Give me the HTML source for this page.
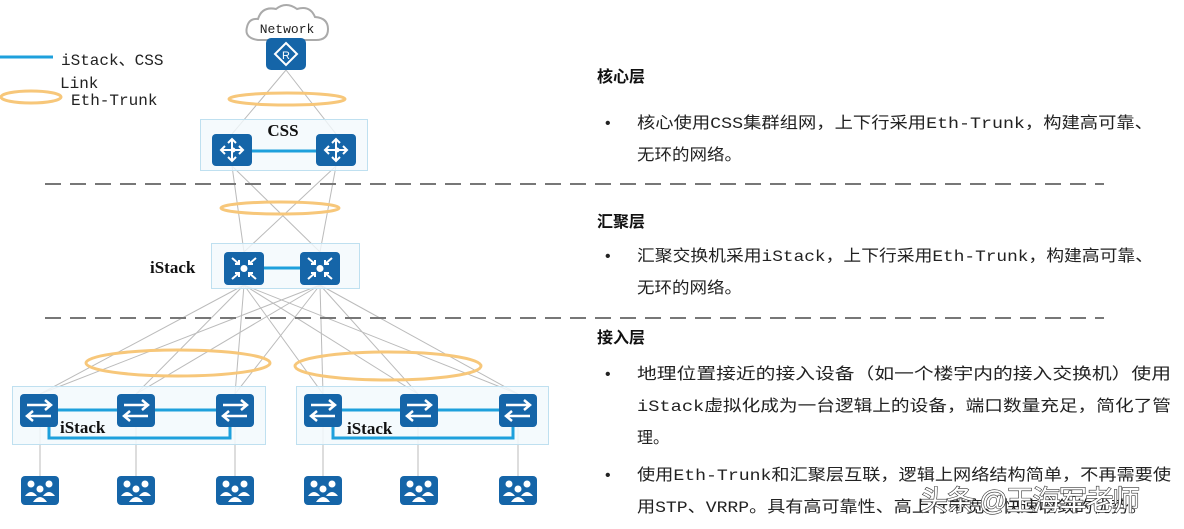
<!DOCTYPE html>
<html><head><meta charset="utf-8"><style>
html,body{margin:0;padding:0;background:#fff;}
svg{display:block;}
.t{font-family:"Liberation Mono","Noto Sans CJK SC",monospace;font-size:16px;fill:#222;}
.h{font-family:"Liberation Sans","Noto Sans CJK SC",sans-serif;font-size:16px;font-weight:bold;fill:#111;}
.lb{font-family:"Liberation Serif","Noto Serif CJK SC",serif;font-size:17px;font-weight:bold;fill:#111;}
</style></head><body>
<svg width="1184" height="529" viewBox="0 0 1184 529" xmlns="http://www.w3.org/2000/svg">
<defs>
<g id="sw"><rect x="0" y="0" width="38" height="33" rx="4" fill="#1565a8"/>
<path d="M7 11 H31 M25 6 L31 11 L25 16 M31 22 H7 M13 17 L7 22 L13 27" stroke="#fff" stroke-width="2.5" fill="none"/></g>
<g id="user"><rect x="0" y="0" width="38" height="29" rx="4" fill="#1565a8"/>
<circle cx="10" cy="8" r="3.5" fill="#fff"/><circle cx="28" cy="8" r="3.5" fill="#fff"/><circle cx="19" cy="13" r="3.5" fill="#fff"/>
<path d="M4 20 Q10 12 16 20 Z M22 20 Q28 12 34 20 Z M12 26 Q19 16 26 26 Z" fill="#fff"/></g>
<g id="core"><rect x="0" y="0" width="40" height="32" rx="4" fill="#1565a8"/>
<path d="M20 5 V27 M9 16 H31 M16 9 L20 5 L24 9 M16 23 L20 27 L24 23 M13 12 L9 16 L13 20 M27 12 L31 16 L27 20" stroke="#fff" stroke-width="2" fill="none"/><circle cx="21" cy="16" r="2.5" fill="#fff"/></g>
<g id="agg"><rect x="0" y="0" width="40" height="33" rx="4" fill="#1565a8"/>
<circle cx="20" cy="16.5" r="3.5" fill="#fff"/>
<path d="M8 6 L15 12 M15 8 V12 H11 M32 6 L25 12 M25 8 V12 H29 M8 27 L15 21 M15 25 V21 H11 M32 27 L25 21 M25 25 V21 H29" stroke="#fff" stroke-width="2" fill="none"/></g>
</defs>

<!-- legend -->
<line x1="0" y1="57" x2="53" y2="57" stroke="#1ea0dc" stroke-width="3"/>
<text class="t" x="61" y="65">iStack、CSS</text>
<text class="t" x="60" y="88">Link</text>
<ellipse cx="31" cy="97" rx="30" ry="6" fill="none" stroke="#f7c77a" stroke-width="3"/>
<text class="t" x="71" y="105">Eth-Trunk</text>

<!-- gray links -->
<g stroke="#bbb" stroke-width="1" fill="none">
<line x1="286" y1="70" x2="232" y2="134"/><line x1="286" y1="70" x2="336" y2="134"/>
<line x1="232" y1="166" x2="244" y2="252"/><line x1="232" y1="166" x2="320" y2="252"/>
<line x1="336" y1="166" x2="244" y2="252"/><line x1="336" y1="166" x2="320" y2="252"/>
<line x1="244" y1="285" x2="40" y2="394"/><line x1="244" y1="285" x2="136" y2="394"/><line x1="244" y1="285" x2="235" y2="394"/>
<line x1="244" y1="285" x2="323" y2="394"/><line x1="244" y1="285" x2="418" y2="394"/><line x1="244" y1="285" x2="518" y2="394"/>
<line x1="320" y1="285" x2="40" y2="394"/><line x1="320" y1="285" x2="136" y2="394"/><line x1="320" y1="285" x2="235" y2="394"/>
<line x1="320" y1="285" x2="323" y2="394"/><line x1="320" y1="285" x2="418" y2="394"/><line x1="320" y1="285" x2="518" y2="394"/>
<line x1="40" y1="426" x2="40" y2="476"/><line x1="136" y1="426" x2="136" y2="476"/><line x1="235" y1="426" x2="235" y2="476"/>
<line x1="323" y1="426" x2="323" y2="476"/><line x1="418" y1="426" x2="418" y2="476"/><line x1="518" y1="426" x2="518" y2="476"/>
</g>

<!-- cloud -->
<path d="M258 40 Q244 38 247 27 Q249 18 258 19 Q262 6 276 9 Q286 1 297 9 Q310 5 315 17 Q328 18 328 29 Q328 40 316 40 Z" fill="#fff" stroke="#aaa" stroke-width="2"/>
<text x="287" y="33" text-anchor="middle" style="font-family:'Liberation Mono',monospace;font-size:13px;fill:#222">Network</text>
<rect x="266" y="38" width="40" height="32" rx="5" fill="#1565a8"/>
<path d="M286 43 L297 54 L286 65 L275 54 Z" fill="none" stroke="#fff" stroke-width="2"/>
<text x="286" y="59" text-anchor="middle" style="font-family:'Liberation Sans',sans-serif;font-size:11px;fill:#fff">R</text>

<ellipse cx="287" cy="99" rx="58" ry="6" fill="none" stroke="#f7c77a" stroke-width="3"/>

<!-- CSS -->
<rect x="200.5" y="119.5" width="167" height="51" fill="#f2f9fd" fill-opacity="0.8" stroke="#bfe0f0"/>
<text class="lb" x="283" y="136" text-anchor="middle">CSS</text>
<line x1="252" y1="151" x2="316" y2="151" stroke="#1ea0dc" stroke-width="3"/>
<use href="#core" x="212" y="134"/><use href="#core" x="316" y="134"/>

<line x1="45" y1="184" x2="1104" y2="184" stroke="#777" stroke-width="2" stroke-dasharray="16,9"/>
<ellipse cx="280" cy="208" rx="59" ry="6" fill="none" stroke="#f7c77a" stroke-width="3"/>

<rect x="211.5" y="243.5" width="148" height="45" fill="#f2f9fd" fill-opacity="0.8" stroke="#bfe0f0"/>
<text class="lb" x="150" y="273">iStack</text>
<line x1="264" y1="268" x2="300" y2="268" stroke="#1ea0dc" stroke-width="3"/>
<use href="#agg" x="224" y="252"/><use href="#agg" x="300" y="252"/>

<line x1="45" y1="318" x2="1104" y2="318" stroke="#777" stroke-width="2" stroke-dasharray="16,9"/>

<ellipse cx="178" cy="363" rx="92" ry="13" fill="none" stroke="#f7c77a" stroke-width="3"/>
<ellipse cx="388" cy="366" rx="93" ry="14" fill="none" stroke="#f7c77a" stroke-width="3"/>

<!-- access boxes -->
<rect x="12.5" y="386.5" width="253" height="58" fill="#f2f9fd" fill-opacity="0.85" stroke="#bfe0f0"/>
<rect x="296.5" y="386.5" width="252" height="58" fill="#f2f9fd" fill-opacity="0.85" stroke="#bfe0f0"/>
<g stroke="#1ea0dc" stroke-width="3" fill="none">
<line x1="58" y1="410" x2="216" y2="410"/><path d="M49 426 V438 H230 V426"/>
<line x1="342" y1="410" x2="499" y2="410"/><path d="M333 426 V438 H513 V426"/>
</g>
<use href="#sw" x="20" y="394"/><use href="#sw" x="117" y="394"/><use href="#sw" x="216" y="394"/>
<use href="#sw" x="304" y="394"/><use href="#sw" x="400" y="394"/><use href="#sw" x="499" y="394"/>
<text class="lb" x="60" y="433">iStack</text>
<text class="lb" x="347" y="434">iStack</text>
<use href="#user" x="21" y="476"/><use href="#user" x="117" y="476"/><use href="#user" x="216" y="476"/>
<use href="#user" x="304" y="476"/><use href="#user" x="400" y="476"/><use href="#user" x="499" y="476"/>

<!-- right text -->
<text class="h" x="597" y="82">核心层</text>
<text class="t" x="603" y="128">•</text>
<text class="t" x="637" y="128" textLength="516" lengthAdjust="spacingAndGlyphs">核心使用CSS集群组网，上下行采用Eth-Trunk，构建高可靠、</text>
<text class="t" x="637" y="160" textLength="105" lengthAdjust="spacingAndGlyphs">无环的网络。</text>

<text class="h" x="597" y="227">汇聚层</text>
<text class="t" x="603" y="261">•</text>
<text class="t" x="637" y="261" textLength="516" lengthAdjust="spacingAndGlyphs">汇聚交换机采用iStack，上下行采用Eth-Trunk，构建高可靠、</text>
<text class="t" x="637" y="293" textLength="105" lengthAdjust="spacingAndGlyphs">无环的网络。</text>

<text class="h" x="597" y="343">接入层</text>
<text class="t" x="603" y="379">•</text>
<text class="t" x="637" y="379" textLength="534" lengthAdjust="spacingAndGlyphs">地理位置接近的接入设备（如一个楼宇内的接入交换机）使用</text>
<text class="t" x="637" y="411" textLength="534" lengthAdjust="spacingAndGlyphs">iStack虚拟化成为一台逻辑上的设备，端口数量充足，简化了管</text>
<text class="t" x="637" y="443">理。</text>
<text class="t" x="603" y="480">•</text>
<text class="t" x="637" y="480" textLength="534" lengthAdjust="spacingAndGlyphs">使用Eth-Trunk和汇聚层互联，逻辑上网络结构简单，不再需要使</text>
<text class="t" x="637" y="512" textLength="510" lengthAdjust="spacingAndGlyphs">用STP、VRRP。具有高可靠性、高上行带宽、快速收敛的优势。</text>

<text x="920" y="510" style="font-family:'Liberation Sans','Noto Sans CJK SC',sans-serif;font-size:28px;fill:#fff;stroke:#333;stroke-width:1.2;paint-order:stroke" textLength="220">头条 @王海军老师</text>
</svg>
</body></html>
